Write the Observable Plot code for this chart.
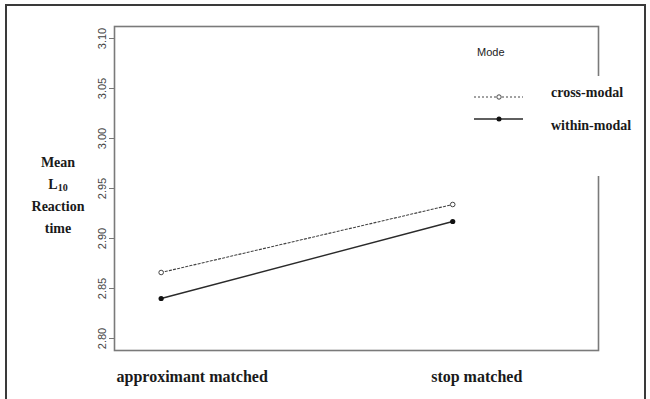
<!DOCTYPE html>
<html>
<head>
<meta charset="utf-8">
<script src="https://cdn.jsdelivr.net/npm/d3@7"></script>
<script src="https://cdn.jsdelivr.net/npm/@observablehq/plot@0.6"></script>
<style>
  html, body { margin: 0; padding: 0; background: #fff; }
  #wrap { position: relative; width: 650px; height: 399px; overflow: hidden; background: #fff; }
  #outer { position: absolute; left: 5px; top: 4px; width: 641px; height: 400px; border: 2px solid #3a3a3a; border-bottom: none; box-sizing: border-box; }
  .serif { font-family: "Liberation Serif", "Times New Roman", serif; font-weight: bold; color: #1a1a1a; }
  #ylab { position: absolute; left: 18px; top: 152px; width: 80px; text-align: center; font-size: 14px; line-height: 22px; }
  #ylab sub { font-size: 10px; vertical-align: -2px; line-height: 0; }
  #legend { position: absolute; left: 468px; top: 44px; width: 178px; height: 132px; }
  #legcover { position: absolute; left: 120px; top: 32px; width: 20px; height: 100px; background: #fff; }
  #mode { position: absolute; left: 9px; top: 2px; font-family: Arial, "Liberation Sans", sans-serif; font-size: 11px; color: #222; }
  .legrow { position: absolute; left: 6px; height: 14px; }
  .legtxt { position: absolute; left: 83px; font-size: 14px; white-space: nowrap; }
</style>
</head>
<body>
<div id="wrap">
  <div id="outer"></div>
  <div id="chart"></div>
  <div id="ylab" class="serif">Mean<br>L<sub>10</sub><br>Reaction<br>time</div>
  <div id="legend">
    <div id="legcover"></div>
    <div id="mode">Mode</div>
  </div>
</div>
<script>
// ---- data ----
const conditions = ["approximant matched", "stop matched"];
const conditionIndex = [1, 2];
const modes = ["cross-modal", "within-modal"];
const crossModal = [2.866, 2.934];
const withinModal = [2.840, 2.917];
const yTicks = [2.80, 2.85, 2.90, 2.95, 3.00, 3.05, 3.10];

const rows = [];
conditionIndex.forEach((c, i) => {
  rows.push({cond: c, mode: modes[0], value: crossModal[i]});
  rows.push({cond: c, mode: modes[1], value: withinModal[i]});
});
const cross = rows.filter(d => d.mode === modes[0]);
const within = rows.filter(d => d.mode === modes[1]);

const plot = Plot.plot({
  width: 650,
  height: 399,
  marginLeft: 114,
  marginRight: 52,
  marginTop: 26,
  marginBottom: 49,
  style: {background: "transparent", overflow: "visible"},
  x: {type: "linear", domain: [0.84, 2.5]},
  y: {domain: [2.788, 3.112]},
  marks: [
    Plot.frame({stroke: "#7a7a7a", strokeWidth: 1.6}),
    Plot.axisY(yTicks, {
      tickSize: 5, tickPadding: 4, tickRotate: -90, stroke: "#777",
      tickFormat: d3.format(".2f"), fontSize: 11, fill: "#444",
      fontFamily: "Arial, 'Liberation Sans', sans-serif", label: null
    }),
    Plot.axisX([1], {
      tickSize: 0, tickFormat: d => conditions[d - 1], dx: 31, dy: 11,
      fontSize: 16, fontWeight: "bold", fill: "#1a1a1a",
      fontFamily: "'Liberation Serif', 'Times New Roman', serif", label: null
    }),
    Plot.axisX([2], {
      tickSize: 0, tickFormat: d => conditions[d - 1], dx: 24, dy: 11,
      fontSize: 16, fontWeight: "bold", fill: "#1a1a1a",
      fontFamily: "'Liberation Serif', 'Times New Roman', serif", label: null
    }),
    Plot.line(cross, {x: "cond", y: "value", stroke: "#444", strokeWidth: 1.1, strokeDasharray: "2.2,2"}),
    Plot.line(within, {x: "cond", y: "value", stroke: "#2a2a2a", strokeWidth: 1.4}),
    Plot.dot(cross, {x: "cond", y: "value", r: 2.3, stroke: "#444", strokeWidth: 1, fill: "white"}),
    Plot.dot(within, {x: "cond", y: "value", r: 2.6, fill: "#111", stroke: "none"})
  ]
});
document.getElementById("chart").appendChild(plot);

// legend built from the modes array
const legend = document.getElementById("legend");
const legTop = [46, 68];
const txtTop = [41, 74];
modes.forEach((m, i) => {
  const row = document.createElement("div");
  row.className = "legrow";
  row.style.top = legTop[i] + "px";
  const dashed = i === 0;
  row.innerHTML = `<svg width="52" height="14">
    <line x1="0" x2="49" y1="7" y2="7" stroke="${dashed ? "#444" : "#2a2a2a"}" stroke-width="${dashed ? 1 : 1.3}" ${dashed ? 'stroke-dasharray="2,2"' : ""}/>
    <circle cx="25" cy="7" r="${dashed ? 2.2 : 2.5}" fill="${dashed ? "white" : "#111"}" stroke="${dashed ? "#444" : "none"}"/>
  </svg>`;
  legend.appendChild(row);
  const t = document.createElement("div");
  t.className = "legtxt serif";
  t.style.top = txtTop[i] + "px";
  t.textContent = m;
  legend.appendChild(t);
});
</script>
</body>
</html>
